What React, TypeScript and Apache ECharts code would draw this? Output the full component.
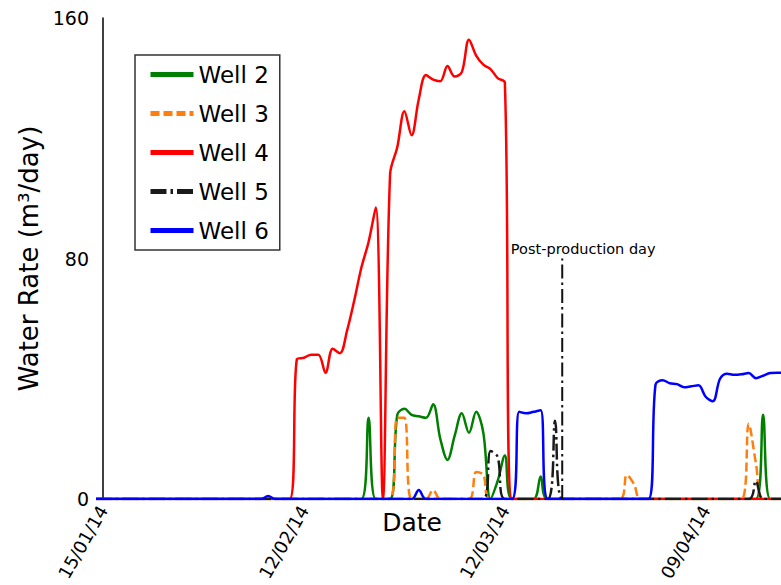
import React, { useEffect, useRef } from "react";
import * as echarts from "echarts";

// ---- data ----
const START_DATE = "2014-01-15";
const X_MIN_DATE = "2014-01-14";
const X_MAX_DATE = "2014-04-19";

const tickDates = ["2014-01-15", "2014-02-12", "2014-03-12", "2014-04-09"];
const tickLabels = ["15/01/14", "12/02/14", "12/03/14", "09/04/14"];
const yTicks = [0, 80, 160];

const wellNames = ["Well 2", "Well 3", "Well 4", "Well 5", "Well 6"];

const well2: [string, number][] = [
  ["2014-01-14", 0], ["2014-02-20", 0], ["2014-02-21", 27], ["2014-02-22", 0],
  ["2014-02-24", 0], ["2014-02-25", 28], ["2014-02-26", 30], ["2014-02-27", 28],
  ["2014-02-28", 27.5], ["2014-03-01", 27], ["2014-03-02", 31.5], ["2014-03-03", 20],
  ["2014-03-04", 13], ["2014-03-05", 21], ["2014-03-06", 28.5], ["2014-03-07", 22],
  ["2014-03-08", 29], ["2014-03-09", 22], ["2014-03-10", 0], ["2014-03-11", 6],
  ["2014-03-12", 14.5], ["2014-03-13", 0], ["2014-03-16", 0], ["2014-03-17", 7.5],
  ["2014-03-18", 0], ["2014-04-16", 0], ["2014-04-17", 28], ["2014-04-18", 0],
  ["2014-04-20", 0],
];

const well3: [string, number][] = [
  ["2014-01-14", 0], ["2014-02-24", 0], ["2014-02-25", 27], ["2014-02-26", 27],
  ["2014-02-27", 0], ["2014-03-01", 0], ["2014-03-02", 3], ["2014-03-03", 0],
  ["2014-03-07", 0], ["2014-03-08", 9], ["2014-03-09", 8], ["2014-03-10", 0],
  ["2014-03-28", 0], ["2014-03-29", 8], ["2014-03-30", 5], ["2014-03-31", 0],
  ["2014-04-14", 0], ["2014-04-15", 25], ["2014-04-16", 12], ["2014-04-17", 0],
  ["2014-04-20", 0],
];

const well4: [string, number][] = [
  ["2014-01-14", 0], ["2014-02-10", 0], ["2014-02-11", 46.5], ["2014-02-12", 47],
  ["2014-02-13", 48], ["2014-02-14", 48], ["2014-02-15", 42], ["2014-02-16", 50],
  ["2014-02-17", 48.5], ["2014-02-18", 56], ["2014-02-19", 66], ["2014-02-20", 77],
  ["2014-02-21", 85.5], ["2014-02-22", 97], ["2014-02-23", 0], ["2014-02-24", 108],
  ["2014-02-25", 117], ["2014-02-26", 129], ["2014-02-27", 121], ["2014-02-28", 133],
  ["2014-03-01", 141], ["2014-03-02", 139.5], ["2014-03-03", 139], ["2014-03-04", 144],
  ["2014-03-05", 140.5], ["2014-03-06", 142], ["2014-03-07", 152.8], ["2014-03-08", 147.5],
  ["2014-03-09", 144.5], ["2014-03-10", 143], ["2014-03-11", 140], ["2014-03-12", 138.5],
  ["2014-03-13", 0], ["2014-04-20", 0],
];

const well5: [string, number][] = [
  ["2014-01-14", 0], ["2014-03-09", 0], ["2014-03-10", 16], ["2014-03-11", 14],
  ["2014-03-12", 0], ["2014-03-18", 0], ["2014-03-19", 26], ["2014-03-20", 0],
  ["2014-04-15", 0], ["2014-04-16", 6], ["2014-04-17", 0], ["2014-04-20", 0],
];

const well6: [string, number][] = [
  ["2014-01-14", 0], ["2014-02-06", 0], ["2014-02-07", 1], ["2014-02-08", 0],
  ["2014-02-27", 0], ["2014-02-28", 3], ["2014-03-01", 0], ["2014-03-13", 0],
  ["2014-03-14", 29], ["2014-03-15", 28.5], ["2014-03-16", 29], ["2014-03-17", 29.5],
  ["2014-03-18", 0], ["2014-04-01", 0], ["2014-04-02", 38], ["2014-04-03", 39.5],
  ["2014-04-04", 38.5], ["2014-04-05", 38.2], ["2014-04-06", 37.2], ["2014-04-07", 37.5],
  ["2014-04-08", 37.8], ["2014-04-09", 34], ["2014-04-10", 32.5], ["2014-04-11", 40],
  ["2014-04-12", 41.7], ["2014-04-13", 41.3], ["2014-04-14", 41.5], ["2014-04-15", 41.9],
  ["2014-04-16", 40.2], ["2014-04-17", 41], ["2014-04-18", 41.9], ["2014-04-19", 42],
  ["2014-04-20", 42],
];

const postProductionDate = "2014-03-20";
const postProductionSpan = [0, 80];
const postProductionLabel = "Post-production day";

// ---- helpers ----
const dayOf = (s: string) => Math.round((Date.parse(s) - Date.parse(START_DATE)) / 86400000);
const toXY = (arr: [string, number][]) => arr.map(([d, v]) => [dayOf(d), v]);

const FONT = "DejaVu Sans";

export default function App() {
  const ref = useRef<HTMLDivElement>(null);

  useEffect(() => {
    if (!ref.current) return;
    const chart = echarts.init(ref.current, undefined, { renderer: "svg" });
    const tickValues = tickDates.map(dayOf);
    const ppDay = dayOf(postProductionDate);

    const wells = [well2, well3, well4, well5, well6];
    const colors = ["#008000", "#ff7f0e", "#ff0000", "#1a1a1a", "#0000ff"];
    const types: any[] = ["solid", [9, 4], "solid", [16, 4, 2.5, 4], "solid"];

    const series: any[] = wells.map((w, i) => ({
      name: wellNames[i],
      type: "line",
      data: toXY(w),
      smooth: 0.35,
      symbol: "none",
      lineStyle: { color: colors[i], width: 2.5, type: types[i] },
      itemStyle: { color: colors[i] },
      z: 2 + i,
    }));

    series.push({
      name: "post",
      type: "line",
      data: [
        [ppDay, postProductionSpan[0]],
        [ppDay, postProductionSpan[1]],
      ],
      symbol: "none",
      lineStyle: { color: "#111", width: 2, type: [14, 4, 2.5, 4] },
      z: 10,
    });

    chart.setOption({
      animation: false,
      textStyle: { fontFamily: FONT },
      grid: { left: 96, right: 0, top: 18, bottom: 86, containLabel: false },
      legend: {
        data: wellNames,
        orient: "vertical",
        left: 135,
        top: 55,
        padding: [8, 11, 8, 13],
        itemWidth: 43,
        itemHeight: 23,
        itemGap: 16,
        borderColor: "#333",
        borderWidth: 1.5,
        borderRadius: 0,
        backgroundColor: "#fff",
        lineStyle: { width: 5 },
        itemStyle: { opacity: 0 },
        textStyle: { fontSize: 23, color: "#000", fontFamily: FONT, lineHeight: 23 },
      },
      xAxis: {
        type: "value",
        min: dayOf(X_MIN_DATE),
        max: dayOf(X_MAX_DATE) + 0.5,
        axisLine: { show: false },
        axisTick: { show: false, customValues: tickValues },
        splitLine: { show: false },
        axisLabel: {
          customValues: tickValues,
          rotate: 60,
          fontSize: 18,
          color: "#000",
          margin: 8,
          fontFamily: FONT,
          formatter: (v: number) => {
            const idx = tickValues.indexOf(Math.round(v));
            return idx >= 0 ? tickLabels[idx] : "";
          },
        },
      },
      yAxis: {
        type: "value",
        min: yTicks[0],
        max: yTicks[yTicks.length - 1],
        interval: yTicks[1] - yTicks[0],
        name: "Water Rate (m³/day)",
        nameLocation: "middle",
        nameGap: 47,
        nameTextStyle: { fontSize: 26, color: "#000", fontFamily: FONT },
        axisLine: { show: true, lineStyle: { color: "#000", width: 1.5 } },
        axisTick: { show: false },
        splitLine: { show: false },
        axisLabel: { fontSize: 19, color: "#000", margin: 7, fontFamily: FONT },
      },
      series,
    });

    const top = chart.convertToPixel({ gridIndex: 0 }, [ppDay, postProductionSpan[1]]) as number[];
    chart.setOption({
      graphic: [
        {
          type: "text",
          x: 412,
          y: 522,
          style: {
            text: "Date",
            fontSize: 25,
            fill: "#000",
            fontFamily: FONT,
            align: "center",
            verticalAlign: "middle",
          },
        },
        {
          type: "text",
          x: top[0] + 21,
          y: top[1] - 10,
          style: {
            text: postProductionLabel,
            fontSize: 14.5,
            fill: "#000",
            fontFamily: FONT,
            align: "center",
            verticalAlign: "middle",
          },
        },
      ],
    });

    return () => chart.dispose();
  }, []);

  return (
    <div
      ref={ref}
      style={{ position: "absolute", left: 0, top: 0, width: 781, height: 585, background: "#fff" }}
    />
  );
}
